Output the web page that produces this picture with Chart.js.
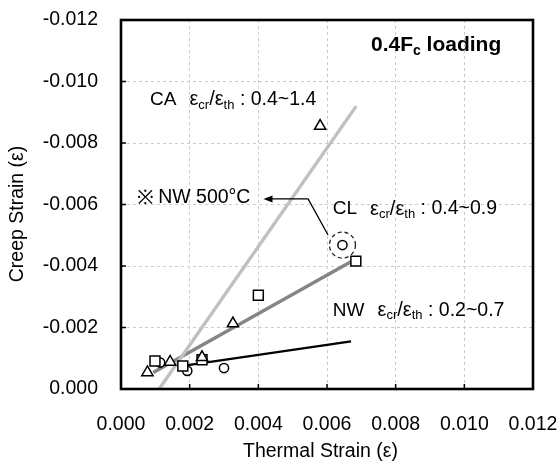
<!DOCTYPE html>
<html>
<head>
<meta charset="utf-8">
<script src="https://cdn.jsdelivr.net/npm/chart.js@4.4.0/dist/chart.umd.min.js"></script>
<style>
  html, body { margin: 0; padding: 0; background: #fff; }
  #wrap { width: 557px; height: 462px; }
</style>
</head>
<body>
<div id="wrap"><canvas id="c" width="557" height="462"></canvas></div>
<script>
// Thermal strain (x) against creep strain (y) for each mix
const caThermal = [0.00077, 0.00143, 0.00236, 0.00326, 0.0058];
const caCreep   = [-0.00054, -0.00088, -0.00103, -0.00213, -0.00855];
const clThermal = [0.00099, 0.0018, 0.00236, 0.0040, 0.00684];
const clCreep   = [-0.00091, -0.00075, -0.00095, -0.00305, -0.00416];
const nwThermal = [0.00114, 0.00193, 0.0030, 0.00645];
const nwCreep   = [-0.00086, -0.00059, -0.00068, -0.00468];

// Trend lines (start, end)
const caTrendX = [0.00111, 0.00685];
const caTrendY = [0, -0.0092];
const clTrendX = [0.00094, 0.0068];
const clTrendY = [-0.00054, -0.0042];
const nwTrendX = [0.0018, 0.0067];
const nwTrendY = [-0.00075, -0.00155];

// Axis ticks
const xTicks = [0, 0.002, 0.004, 0.006, 0.008, 0.010, 0.012];
const yTicks = [0, -0.002, -0.004, -0.006, -0.008, -0.010, -0.012];

// The NW specimen heated to 500°C (last NW point)
const highlightIndex = 3;

const FONT = '"Liberation Sans", Arial, sans-serif';
const zip = (xs, ys) => xs.map((v, i) => ({ x: v, y: ys[i] }));

// Annotation placement, in axis units
const notes = {
  title:  { x: 0.00728, y: -0.01119 },
  ca:     { x: 0.000845, y: -0.0094 },
  nw500:  { x: 0.00047, y: -0.00621 },
  cl:     { x: 0.00617, y: -0.00585 },
  nw:     { x: 0.00617, y: -0.00254 },
  arrow:  [{ x: 0.00545, y: -0.00618 }, { x: 0.00603, y: -0.00501 }], // corner, end near the circle
  arrowTip: { x: 0.00415, y: -0.00618 }
};

function drawRuns(ctx, x, y, runs) {
  let cx = x;
  for (const r of runs) {
    if (r.gap) { cx += r.gap; continue; }
    ctx.font = (r.bold ? 'bold ' : '') + r.size + 'px ' + FONT;
    ctx.fillText(r.t, cx, y + (r.dy || 0));
    cx += ctx.measureText(r.t).width;
  }
}

function ratioRuns(name, range) {
  return [
    { t: name, size: 19 }, { gap: 13 },
    { t: 'ε', size: 20 }, { t: 'cr', size: 13, dy: 5 },
    { t: '/ε', size: 20 }, { t: 'th', size: 13, dy: 5 },
    { t: ' : ' + range, size: 19.5 }
  ];
}

const overlay = {
  id: 'overlay',
  afterDatasetsDraw(chart) {
    const { ctx, chartArea: a, scales: { x, y } } = chart;
    ctx.save();

    // inner tick marks
    ctx.strokeStyle = '#000';
    ctx.lineWidth = 1.5;
    ctx.beginPath();
    xTicks.forEach(v => {
      const px = x.getPixelForValue(v);
      ctx.moveTo(px, a.bottom); ctx.lineTo(px, a.bottom - 5);
    });
    yTicks.forEach(v => {
      const py = y.getPixelForValue(v);
      ctx.moveTo(a.left, py); ctx.lineTo(a.left + 5, py);
    });
    ctx.stroke();

    // plot frame
    ctx.lineWidth = 2.6;
    ctx.strokeRect(a.left, a.top, a.right - a.left, a.bottom - a.top);

    // dashed ring around the 500°C point
    const hx = x.getPixelForValue(nwThermal[highlightIndex]);
    const hy = y.getPixelForValue(nwCreep[highlightIndex]);
    ctx.setLineDash([4, 3]);
    ctx.lineWidth = 1.3;
    ctx.strokeStyle = '#222';
    ctx.beginPath();
    ctx.arc(hx, hy, 13, 0, Math.PI * 2);
    ctx.stroke();
    ctx.setLineDash([]);

    // leader arrow
    const tip = { x: x.getPixelForValue(notes.arrowTip.x), y: y.getPixelForValue(notes.arrowTip.y) };
    const pts = notes.arrow.map(p => ({ x: x.getPixelForValue(p.x), y: y.getPixelForValue(p.y) }));
    ctx.strokeStyle = '#000';
    ctx.lineWidth = 1.3;
    ctx.beginPath();
    ctx.moveTo(tip.x + 6, tip.y);
    ctx.lineTo(pts[0].x, pts[0].y);
    ctx.lineTo(pts[1].x, pts[1].y);
    ctx.stroke();
    ctx.fillStyle = '#000';
    ctx.beginPath();
    ctx.moveTo(tip.x, tip.y);
    ctx.lineTo(tip.x + 9, tip.y - 3.5);
    ctx.lineTo(tip.x + 9, tip.y + 3.5);
    ctx.closePath();
    ctx.fill();

    // texts
    ctx.fillStyle = '#000';
    ctx.textBaseline = 'middle';
    ctx.textAlign = 'left';
    const P = n => ({ x: x.getPixelForValue(n.x), y: y.getPixelForValue(n.y) });
    let p = P(notes.title);
    drawRuns(ctx, p.x, p.y, [
      { t: '0.4F', size: 21, bold: true },
      { t: 'c', size: 14, bold: true, dy: 6 },
      { t: ' loading', size: 21, bold: true }
    ]);
    p = P(notes.ca); drawRuns(ctx, p.x, p.y, ratioRuns('CA', '0.4~1.4'));
    p = P(notes.cl); drawRuns(ctx, p.x, p.y, ratioRuns('CL', '0.4~0.9'));
    p = P(notes.nw); drawRuns(ctx, p.x, p.y, ratioRuns('NW', '0.2~0.7'));
    p = P(notes.nw500);
    drawRuns(ctx, p.x, p.y, [{ t: '※', size: 20 }, { gap: 4 }, { t: 'NW 500°C', size: 19.5 }]);

    // axis titles
    ctx.font = '19.5px ' + FONT;
    ctx.textAlign = 'center';
    ctx.fillText('Thermal Strain (ε)', (a.left + a.right) / 2 - 6.5, a.bottom + 63);
    ctx.translate(a.left - 103, (a.top + a.bottom) / 2 + 9.5);
    ctx.rotate(-Math.PI / 2);
    ctx.fillText('Creep Strain (ε)', 0, 0);
    ctx.restore();
  }
};

const markerBase = {
  borderColor: '#000',
  backgroundColor: '#fff',
  borderWidth: 1.5,
  showLine: false
};
const trendBase = { showLine: true, pointRadius: 0, fill: false, borderCapStyle: 'butt' };

new Chart(document.getElementById('c'), {
  type: 'scatter',
  data: {
    datasets: [
      { ...markerBase, label: 'CA', data: zip(caThermal, caCreep), pointStyle: 'triangle', pointRadius: 6.5, order: 1 },
      { ...markerBase, label: 'CL', data: zip(clThermal, clCreep), pointStyle: 'rect', pointRadius: 7, order: 2 },
      { ...markerBase, label: 'NW', data: zip(nwThermal, nwCreep), pointStyle: 'circle', pointRadius: 4.6, order: 3 },
      { ...trendBase, label: 'CA trend', data: zip(caTrendX, caTrendY), borderColor: '#c0c0c0', borderWidth: 3.4, order: 4 },
      { ...trendBase, label: 'CL trend', data: zip(clTrendX, clTrendY), borderColor: '#858585', borderWidth: 3.4, order: 5 },
      { ...trendBase, label: 'NW trend', data: zip(nwTrendX, nwTrendY), borderColor: '#000', borderWidth: 2.3, order: 6 }
    ]
  },
  options: {
    responsive: false,
    animation: false,
    devicePixelRatio: 1,
    layout: { padding: { left: 0, right: 24, top: 20, bottom: 0 } },
    plugins: { legend: { display: false }, tooltip: { enabled: false } },
    scales: {
      x: {
        type: 'linear', min: 0, max: 0.012,
        afterBuildTicks: s => { s.ticks = xTicks.map(v => ({ value: v })); },
        afterFit: s => { s.height = 73; s.paddingLeft = 0; s.paddingRight = 0; },
        ticks: { callback: v => v.toFixed(3), color: '#000', font: { family: FONT, size: 19.5 }, padding: 24, maxRotation: 0, autoSkip: false },
        grid: { drawTicks: false, color: '#cccccc', lineWidth: 1 },
        border: { display: false, dash: [3, 3] }
      },
      y: {
        type: 'linear', min: -0.012, max: 0, reverse: true,
        afterBuildTicks: s => { s.ticks = yTicks.map(v => ({ value: v })); },
        afterFit: s => { s.width = 121; s.paddingTop = 0; s.paddingBottom = 0; },
        ticks: { callback: v => v.toFixed(3), color: '#000', font: { family: FONT, size: 19.5 }, padding: 23, autoSkip: false },
        grid: { drawTicks: false, color: '#cccccc', lineWidth: 1 },
        border: { display: false, dash: [3, 3] }
      }
    }
  },
  plugins: [overlay]
});
</script>
</body>
</html>
